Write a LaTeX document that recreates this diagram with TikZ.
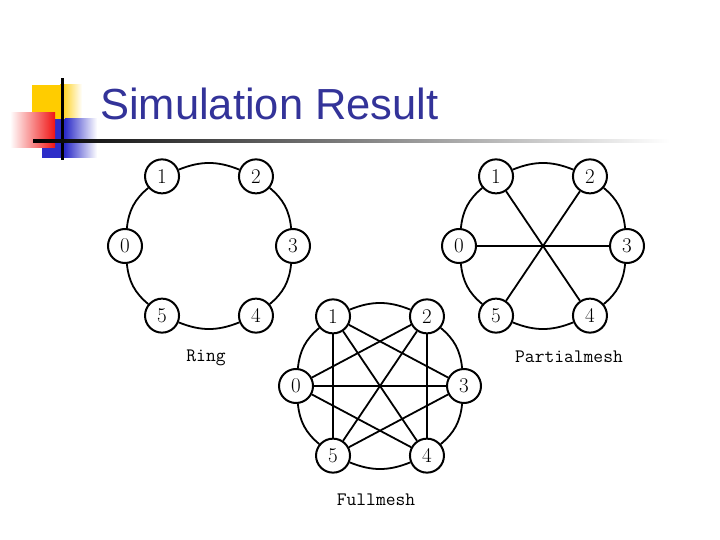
\documentclass[tikz,border=0pt]{standalone}
\usepackage{fontspec}
\newfontfamily\titlefont{Liberation Sans}
\usetikzlibrary{positioning}
\definecolor{titleblue}{RGB}{51,51,153}
\definecolor{logoyellow}{RGB}{255,204,0}
\definecolor{logored}{RGB}{240,20,20}
\definecolor{logoblue}{RGB}{45,45,200}
\tikzset{
  host/.style={circle,draw,line width=2pt,minimum size=34pt,inner sep=0pt,fill=white,font=\fontsize{21}{21}\selectfont},
  link/.style={line width=1.8pt},
  ringlink/.style={link,bend left=22},
  caption/.style={font=\ttfamily\fontsize{19}{19}\selectfont}
}
\begin{document}
\begin{tikzpicture}[x=1pt,y=1pt]
  \useasboundingbox (0,0) rectangle (720,-540);
  %% logo
  \fill[logoyellow] (32,-85) rectangle (60,-120);
  \shade[left color=logoyellow,right color=white] (60,-85) rectangle (82,-120);
  \fill[logoblue] (42,-119) rectangle (65,-158);
  \shade[left color=logoblue,right color=white] (65,-119) rectangle (97,-158);
  \shade[left color=white,right color=logored] (10,-113) rectangle (55,-148);
  \fill (61,-78) rectangle (64,-160);
  \shade[left color=black,middle color=black!45,right color=white] (33,-139.8) rectangle (670,-142.6);
  \node[anchor=base west,inner sep=0pt,text=titleblue,font=\titlefont\fontsize{43.5}{43.5}\selectfont] (title) at (100,-120) {Simulation Result};

  %% ring
  \begin{scope}[shift={(209,-246)}]
    \foreach \n/\a in {0/180,1/124,2/56,3/0,4/-56,5/-124}
      \node[host] (r\n) at (\a:84) {\n};
  \end{scope}
  \foreach \a/\b in {0/1,1/2,2/3,3/4,4/5,5/0}
    \draw[ringlink] (r\a) to (r\b);
  \node[caption] (ringcap) at (206,-358) {Ring};

  %% partial mesh
  \begin{scope}[shift={(543,-246)}]
    \foreach \n/\a in {0/180,1/124,2/56,3/0,4/-56,5/-124}
      \node[host] (p\n) at (\a:84) {\n};
  \end{scope}
  \foreach \a/\b in {0/1,1/2,2/3,3/4,4/5,5/0}
    \draw[ringlink] (p\a) to (p\b);
  \foreach \a/\b in {0/3,1/4,2/5}
    \draw[link] (p\a) -- (p\b);
  \node[caption] (partcap) at (569,-357) {Partialmesh};

  %% full mesh
  \begin{scope}[shift={(380,-386)}]
    \foreach \n/\a in {0/180,1/124,2/56,3/0,4/-56,5/-124}
      \node[host] (f\n) at (\a:84) {\n};
  \end{scope}
  \foreach \a/\b in {0/1,1/2,2/3,3/4,4/5,5/0}
    \draw[ringlink] (f\a) to (f\b);
  \foreach \a/\b in {0/2,0/3,0/4,1/3,1/4,1/5,2/4,2/5,3/5}
    \draw[link] (f\a) -- (f\b);
  \node[caption] (fullcap) at (376,-500) {Fullmesh};
\end{tikzpicture}
\end{document}
